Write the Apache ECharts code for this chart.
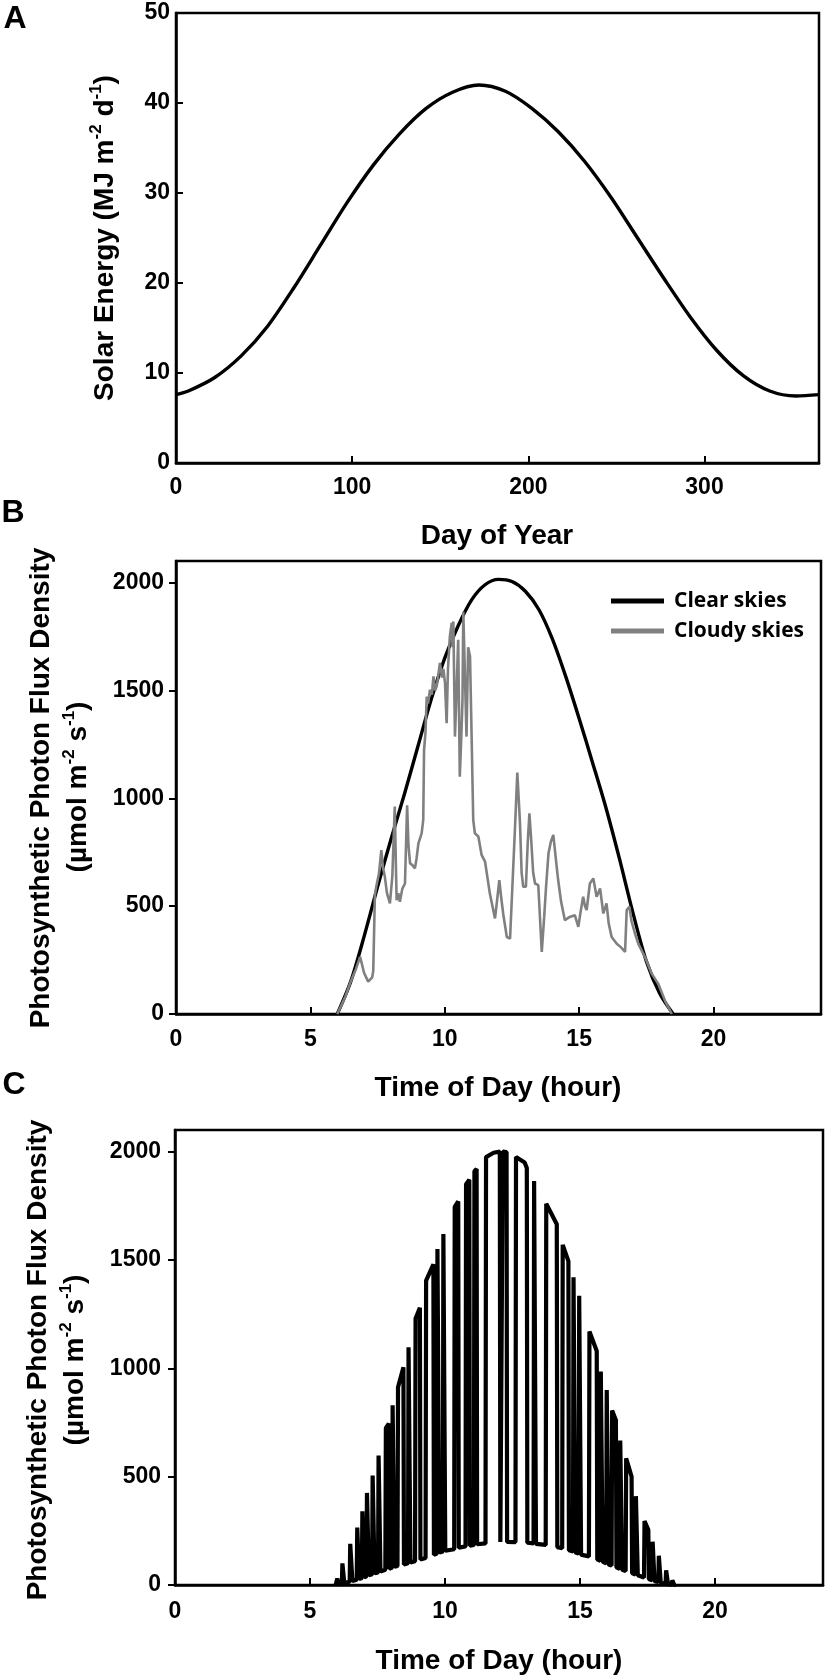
<!DOCTYPE html>
<html><head><meta charset="utf-8">
<script src="https://cdn.jsdelivr.net/npm/echarts@6/dist/echarts.min.js"></script>
<style>html,body{margin:0;padding:0;background:#fff}#c{width:829px;height:1679px}</style>
</head><body><div id="c"></div><script>
// ---- Panel A: solar energy by day of year ----
const solarDay = [0, 7, 22, 37, 52, 67, 82, 97, 112, 127, 142, 157, 172, 187, 202, 217, 232, 247, 262, 277, 292, 307, 322, 337, 352, 365];
const solarEnergy = [7.6, 8.0, 9.5, 11.9, 15.2, 19.5, 24.2, 28.9, 33.1, 36.6, 39.4, 41.2, 42.0, 41.3, 39.4, 36.8, 33.5, 29.5, 25.0, 20.5, 16.2, 12.5, 9.7, 8.0, 7.45, 7.6];
const dayTicks = [0, 100, 200, 300];
const energyTicks = [0, 10, 20, 30, 40, 50];

// ---- Panel B: clear and cloudy skies PPFD ----
const clearHour = [6.0, 6.5, 7.0, 7.5, 8.0, 8.5, 9.0, 9.5, 10.0, 10.5, 11.0, 11.5, 12.0, 12.5, 13.0, 13.5, 14.0, 14.5, 15.0, 15.5, 16.0, 16.5, 17.0, 17.5, 18.0, 18.5];
const clearPPFD = [0, 150, 360, 590, 810, 1020, 1240, 1460, 1650, 1800, 1920, 1990, 2015, 2005, 1960, 1875, 1740, 1565, 1370, 1165, 955, 720, 470, 245, 95, 0];
const cloudyHour = [6.0, 6.3, 6.5, 6.7, 6.85, 7.0, 7.15, 7.3, 7.34, 7.4, 7.45, 7.55, 7.64, 7.7, 7.77, 7.85, 7.96, 8.05, 8.14, 8.18, 8.21, 8.27, 8.33, 8.42, 8.52, 8.6, 8.65, 8.71, 8.8, 8.89, 8.95, 9.02, 9.14, 9.2, 9.23, 9.28, 9.33, 9.38, 9.45, 9.52, 9.58, 9.64, 9.7, 9.76, 9.82, 9.9, 9.95, 10.01, 10.07, 10.12, 10.19, 10.26, 10.29, 10.32, 10.38, 10.44, 10.5, 10.56, 10.62, 10.66, 10.69, 10.75, 10.81, 10.87, 10.94, 11.0, 11.06, 11.12, 11.19, 11.25, 11.37, 11.43, 11.5, 11.56, 11.68, 11.87, 11.95, 12.03, 12.1, 12.18, 12.31, 12.43, 12.49, 12.61, 12.7, 12.74, 12.8, 12.86, 12.92, 13.02, 13.09, 13.15, 13.22, 13.29, 13.36, 13.48, 13.61, 13.7, 13.77, 13.86, 13.95, 14.04, 14.16, 14.22, 14.33, 14.47, 14.65, 14.84, 14.97, 15.05, 15.15, 15.22, 15.28, 15.4, 15.53, 15.65, 15.71, 15.78, 15.9, 16.02, 16.1, 16.21, 16.4, 16.55, 16.71, 16.77, 16.87, 16.95, 17.08, 17.2, 17.45, 17.7, 17.94, 18.2, 18.45];
const cloudyPPFD = [0, 80, 150, 210, 265, 190, 150, 170, 200, 550, 590, 650, 760, 680, 637, 560, 513, 640, 962, 700, 528, 560, 520, 580, 605, 968, 780, 698, 690, 675, 720, 791, 837, 900, 1224, 1300, 1472, 1440, 1503, 1480, 1565, 1500, 1519, 1570, 1627, 1560, 1600, 1534, 1348, 1600, 1750, 1814, 1700, 1820, 1286, 1500, 1735, 1100, 1300, 1456, 1865, 1874, 1286, 1700, 1658, 1285, 900, 838, 839, 823, 738, 745, 706, 705, 557, 443, 530, 620, 540, 460, 357, 349, 357, 853, 1119, 1116, 884, 655, 590, 590, 800, 930, 800, 655, 605, 597, 288, 450, 590, 745, 800, 830, 688, 621, 520, 435, 450, 458, 404, 470, 544, 500, 482, 605, 628, 544, 560, 582, 466, 513, 420, 357, 326, 310, 288, 482, 497, 430, 372, 326, 264, 187, 141, 60, 0];
const hourTicks = [0, 5, 10, 15, 20];
const ppfdTicks = [0, 500, 1000, 1500, 2000];

// ---- Panel C: sunfleck PPFD [hour, value] ----
const sunfleckPPFD = [
  [5.95,0],[5.99,2],[6.01,30],[6.05,30],[6.06,3],
  [6.18,8],[6.20,100],[6.25,100],[6.27,10],
  [6.47,15],[6.49,190],[6.55,190],[6.57,18],
  [6.73,24],[6.75,265],[6.80,265],[6.82,27],
  [6.92,32],[6.94,340],[6.99,340],[7.01,35],
  [7.09,40],[7.11,425],[7.16,425],[7.18,45],
  [7.30,50],[7.32,505],[7.37,505],[7.39,54],
  [7.52,58],[7.54,598],[7.59,598],[7.61,62],
  [7.79,70],[7.81,725],[7.92,745],[7.94,75],
  [8.04,80],[8.06,830],[8.11,830],[8.13,84],
  [8.24,88],[8.26,913],[8.46,1005],[8.48,95],
  [8.63,100],[8.65,1097],[8.70,1097],[8.72,104],
  [8.89,110],[8.91,1230],[9.07,1280],[9.09,118],
  [9.28,125],[9.30,1405],[9.57,1480],[9.59,140],
  [9.70,145],[9.72,1551],[9.77,1551],[9.79,150],
  [9.92,155],[9.94,1620],[9.99,1620],[10.01,158],
  [10.34,165],[10.36,1745],[10.49,1770],[10.51,172],
  [10.76,178],[10.78,1850],[10.90,1870],[10.92,182],
  [11.07,185],[11.09,1910],[11.17,1920],[11.19,188],
  [11.50,192],[11.52,1975],[11.80,1995],[12.03,2000],[12.05,198],
  [12.12,199],[12.14,2000],[12.28,1998],[12.30,199],
  [12.61,198],[12.63,1975],[12.95,1950],[13.03,1925],[13.05,195],
  [13.28,192],[13.30,1865],[13.35,1865],[13.37,190],
  [13.73,185],[13.75,1760],[14.14,1665],[14.16,175],
  [14.34,170],[14.36,1570],[14.57,1495],[14.59,160],
  [14.74,155],[14.76,1420],[14.81,1420],[14.83,150],
  [14.95,145],[14.97,1335],[15.02,1335],[15.04,140],
  [15.33,132],[15.35,1170],[15.62,1080],[15.64,118],
  [15.75,112],[15.77,985],[15.82,985],[15.84,108],
  [15.97,100],[15.99,900],[16.04,900],[16.06,95],
  [16.17,90],[16.19,805],[16.33,760],[16.35,82],
  [16.47,75],[16.49,667],[16.54,667],[16.56,70],
  [16.69,65],[16.71,585],[16.91,500],[16.93,55],
  [17.05,48],[17.07,410],[17.12,410],[17.14,45],
  [17.37,35],[17.39,295],[17.53,255],[17.55,28],
  [17.67,22],[17.69,200],[17.74,200],[17.76,18],
  [17.90,14],[17.92,135],[17.97,135],[17.99,10],
  [18.17,6],[18.19,68],[18.24,68],[18.26,4],
  [18.40,2],[18.42,22],[18.47,22],[18.49,0],[18.55,0]
];

const F = 'Liberation Sans, Arial, Helvetica, sans-serif';
const lbl = { fontFamily: F, fontWeight: 'bold', fontSize: 23, color: '#000', formatter: function (v) { return String(v); } };
const axLine = { show: true, onZero: false, lineStyle: { color: '#000', width: 2.5 } };

function xAx(gi, max, vals, margin) {
  return { type: 'value', gridIndex: gi, min: 0, max: max,
    axisLine: axLine,
    axisTick: { show: true, inside: true, length: 7, lineStyle: { color: '#000', width: 2 }, customValues: vals },
    axisLabel: Object.assign({}, lbl, { margin: margin, customValues: vals }),
    splitLine: { show: false } };
}
function yAx(gi, max, vals, inside, margin) {
  return { type: 'value', gridIndex: gi, min: 0, max: max,
    axisLine: axLine,
    axisTick: { show: true, inside: inside, length: 7, lineStyle: { color: '#000', width: 2 }, customValues: vals },
    axisLabel: Object.assign({}, lbl, { margin: margin, customValues: vals }),
    splitLine: { show: false } };
}
const gridBase = { show: true, borderColor: '#000', borderWidth: 2.5, backgroundColor: 'transparent', containLabel: false };

const rich = {
  n: { fontFamily: F, fontWeight: 'bold', fontSize: 28, lineHeight: 34, fill: '#000', color: '#000' },
  s: { fontFamily: F, fontWeight: 'bold', fontSize: 17, lineHeight: 22, verticalAlign: 'top', fill: '#000', color: '#000' }
};
function txt(x, y, text, size, rot) {
  return { type: 'text', x: x, y: y, rotation: rot || 0, silent: true,
    style: { text: text, fontFamily: F, fontWeight: 'bold', fontSize: size, fill: '#000',
      textAlign: 'center', textVerticalAlign: 'middle', rich: rich } };
}

const chart = echarts.init(document.getElementById('c'), null, { renderer: 'canvas', width: 829, height: 1679 });
chart.setOption({
  animation: false,
  backgroundColor: '#fff',
  grid: [
    Object.assign({ left: 176, top: 13, width: 643, height: 450 }, gridBase),
    Object.assign({ left: 176, top: 561, width: 645, height: 453 }, gridBase),
    Object.assign({ left: 175, top: 1130, width: 648, height: 455 }, gridBase)
  ],
  xAxis: [xAx(0, 365, dayTicks, 13), xAx(1, 24, hourTicks, 14), xAx(2, 24, hourTicks, 15)],
  yAxis: [yAx(0, 50, energyTicks, true, 6), yAx(1, 2100, ppfdTicks, false, 12), yAx(2, 2100, ppfdTicks, false, 14)],
  legend: {
    data: ['Clear skies', 'Cloudy skies'], orient: 'vertical', left: 606, top: 585,
    itemWidth: 53, itemHeight: 5, itemGap: 8, icon: 'rect',
    textStyle: { fontFamily: '"Open Sans", Lato, sans-serif', fontWeight: 'bold', fontSize: 21, lineHeight: 22, color: '#000', padding: [0, 0, 0, 5] },
    selectedMode: false
  },
  series: [
    { name: 'Solar energy', type: 'line', xAxisIndex: 0, yAxisIndex: 0, symbol: 'none', smooth: 0.3,
      data: solarDay.map((d, i) => [d, solarEnergy[i]]), lineStyle: { color: '#000', width: 3.4 } },
    { name: 'Clear skies', type: 'line', xAxisIndex: 1, yAxisIndex: 1, symbol: 'none', smooth: 0.3,
      data: clearHour.map((h, i) => [h, clearPPFD[i]]), itemStyle: { color: '#000' }, lineStyle: { color: '#000', width: 3.4 } },
    { name: 'Cloudy skies', type: 'line', xAxisIndex: 1, yAxisIndex: 1, symbol: 'none',
      data: cloudyHour.map((h, i) => [h, cloudyPPFD[i]]), itemStyle: { color: '#808080' }, lineStyle: { color: '#808080', width: 2.6 } },
    { name: 'Sunflecks', type: 'line', xAxisIndex: 2, yAxisIndex: 2, symbol: 'none',
      data: sunfleckPPFD, lineStyle: { color: '#000', width: 4.2 } }
  ],
  graphic: [
    txt(15, 19, 'A', 32), txt(13, 513, 'B', 32), txt(14, 1085, 'C', 32),
    txt(497, 536, 'Day of Year', 28),
    txt(498, 1088, 'Time of Day (hour)', 28),
    txt(499, 1661, 'Time of Day (hour)', 28),
    txt(105, 238, '{n|Solar Energy (MJ m}{s|-2}{n| d}{s|-1}{n|)}', 28, Math.PI / 2),
    txt(41, 788, '{n|Photosynthetic Photon Flux Density}', 28, Math.PI / 2),
    txt(78, 787, '{n|(µmol m}{s|-2}{n| s}{s|-1}{n|)}', 28, Math.PI / 2),
    txt(38, 1360, '{n|Photosynthetic Photon Flux Density}', 28, Math.PI / 2),
    txt(75, 1360, '{n|(µmol m}{s|-2}{n| s}{s|-1}{n|)}', 28, Math.PI / 2)
  ]
});
</script></body></html>
